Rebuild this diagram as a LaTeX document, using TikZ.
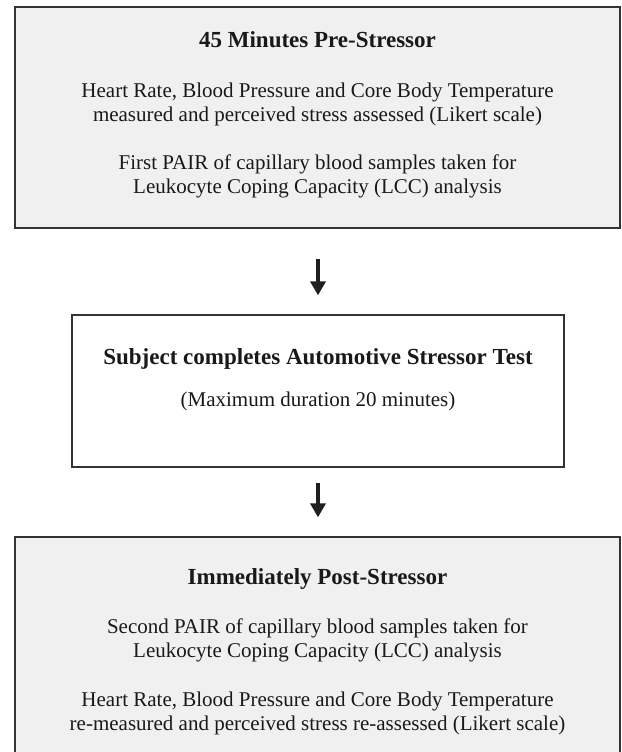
\documentclass[tikz,border=0pt]{standalone}
\usepackage{fontspec}
\setmainfont{Liberation Serif}
\usetikzlibrary{arrows.meta,positioning}
\definecolor{boxgrey}{HTML}{F0F0F0}
\definecolor{edgegrey}{HTML}{333333}

\begin{document}
\begin{tikzpicture}[x=1pt, y=-1pt,
    stage/.style={draw=edgegrey, line width=1.3pt, fill=boxgrey, inner sep=0pt, minimum width=605pt},
    plainstage/.style={stage, fill=white, minimum width=492pt},
    heading/.style={anchor=base, text=black!90, font=\fontsize{23}{24}\selectfont\bfseries},
    body/.style={anchor=north, align=center, inner sep=0pt, text=black!90, font=\fontsize{21}{24}\selectfont},
    flow/.style={line width=4pt, draw=black!88, -{Triangle[width=15pt,length=14pt]}}]
    \useasboundingbox (0,0) rectangle (621,752);
    \clip (0,0) rectangle (621,752);

    % 45 minutes before
    \node[stage, minimum height=221pt] (pre) at (317.5,117.5) {};
    \node[heading] (preHead) at (317.5,48) {45 Minutes Pre-Stressor};
    \node[body] (preVitals) at (317.5,82.6) {Heart Rate, Blood Pressure and Core Body Temperature\\measured and perceived stress assessed (Likert scale)};
    \node[body] (preSamples) at (317.5,154.6) {First PAIR of capillary blood samples taken for\\Leukocyte Coping Capacity (LCC) analysis};

    % Stressor test
    \node[plainstage, minimum height=152pt] (test) at (318,391) {};
    \node[heading] (testHead) at (318,364) {Subject completes Automotive Stressor Test};
    \node[body, anchor=base] (testNote) at (318,406) {(Maximum duration 20 minutes)};

    % Immediately after
    \node[stage, minimum height=250pt] (post) at (317.5,662) {};
    \node[heading] (postHead) at (317.5,584) {Immediately Post-Stressor};
    \node[body] (postSamples) at (317.5,618.6) {Second PAIR of capillary blood samples taken for\\Leukocyte Coping Capacity (LCC) analysis};
    \node[body] (postVitals) at (317.5,691.6) {Heart Rate, Blood Pressure and Core Body Temperature\\re-measured and perceived stress re-assessed (Likert scale)};

    % Arrows down
    \draw[flow, shorten <=30pt, shorten >=19pt] (pre.south -| test.north) -- (test.north);
    \draw[flow, shorten <=15pt, shorten >=19pt] (test.south) -- (post.north -| test.south);
\end{tikzpicture}
\end{document}
